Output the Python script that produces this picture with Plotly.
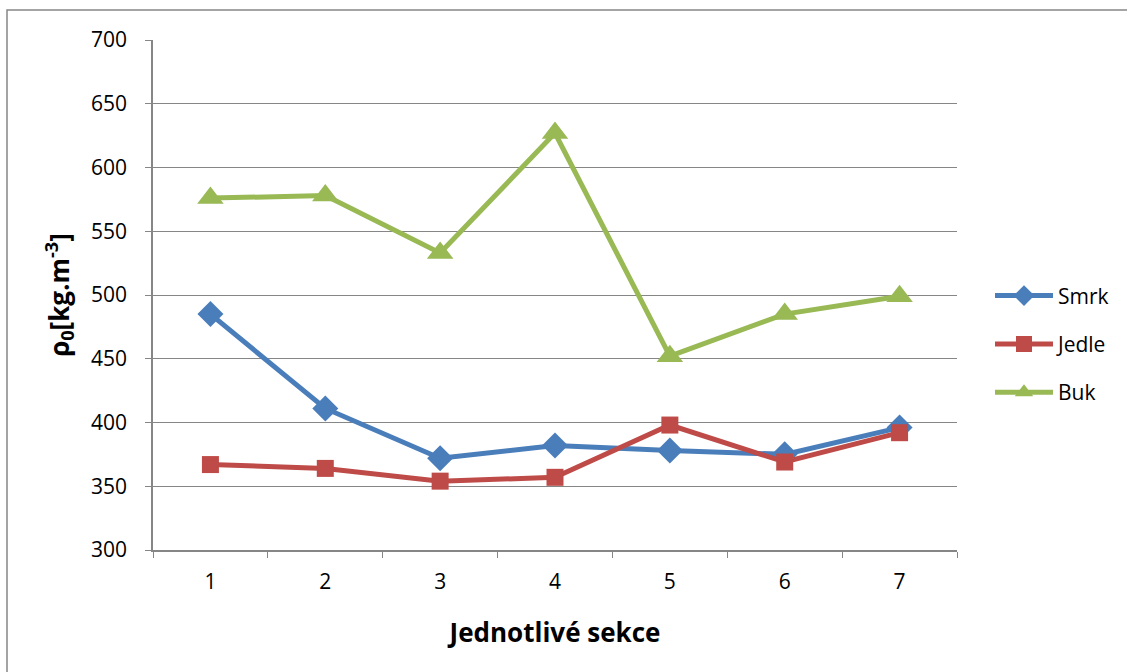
import plotly.graph_objects as go

sections = ["1", "2", "3", "4", "5", "6", "7"]
smrk = [485, 411, 372, 382, 378, 375, 396]
jedle = [367, 364, 354, 357, 398, 369, 392]
buk = [576, 578, 533, 627, 452, 485, 499]

series = [
    ("Smrk", smrk, "#4A7EBB", "diamond", 20),
    ("Jedle", jedle, "#BE4B48", "square", 17),
    ("Buk", buk, "#98B954", "triangle-up", 23),
]

fig = go.Figure()
for i, (name, vals, col, sym, ms) in enumerate(series):
    fig.add_trace(go.Scatter(
        x=sections, y=vals, name=name, mode="lines+markers",
        line=dict(color=col, width=5),
        marker=dict(symbol=sym, size=ms, color=col),
        legendgroup=name,
    ))

font_family = "Open Sans, Liberation Sans, sans-serif"
fig.update_layout(
    width=1127, height=672,
    margin=dict(l=153, r=170, t=40, b=122),
    plot_bgcolor="white", paper_bgcolor="white",
    font=dict(family=font_family, color="black", size=21),
    showlegend=True,
    legend=dict(x=(990 - 153) / 804, y=0.404, xanchor="left", yanchor="middle",
                font=dict(size=21), tracegroupgap=18, bgcolor="rgba(0,0,0,0)",
                itemwidth=58),
    xaxis=dict(
        type="category", range=[-0.5, 6.5],
        showline=True, linecolor="#868686", linewidth=1.5,
        ticks="outside", tickson="boundaries", ticklen=6, tickcolor="#868686",
        showgrid=False, ticklabelstandoff=12,
        title=dict(text="<b>Jednotlivé sekce</b>", font=dict(size=26), standoff=30),
        tickfont=dict(size=21),
    ),
    yaxis=dict(
        range=[300, 700], dtick=50,
        showline=True, linecolor="#868686", linewidth=1.5,
        ticks="outside", ticklen=6, tickcolor="#868686",
        showgrid=True, gridcolor="#868686", gridwidth=1.2,
        ticklabelstandoff=14,
        title=dict(text="<b>ρ<sub>0</sub>[kg.m<sup>-3</sup>]</b>", font=dict(size=26), standoff=14),
        tickfont=dict(size=21),
        zeroline=False,
    ),
    shapes=[dict(type="rect", xref="paper", yref="paper",
                 x0=(7 - 153) / 804, x1=(1135 - 153) / 804,
                 y0=(550 - 690) / 510, y1=(550 - 10) / 510,
                 line=dict(color="#868686", width=1.5), layer="below")],
)

fig.write_html("out.html")
